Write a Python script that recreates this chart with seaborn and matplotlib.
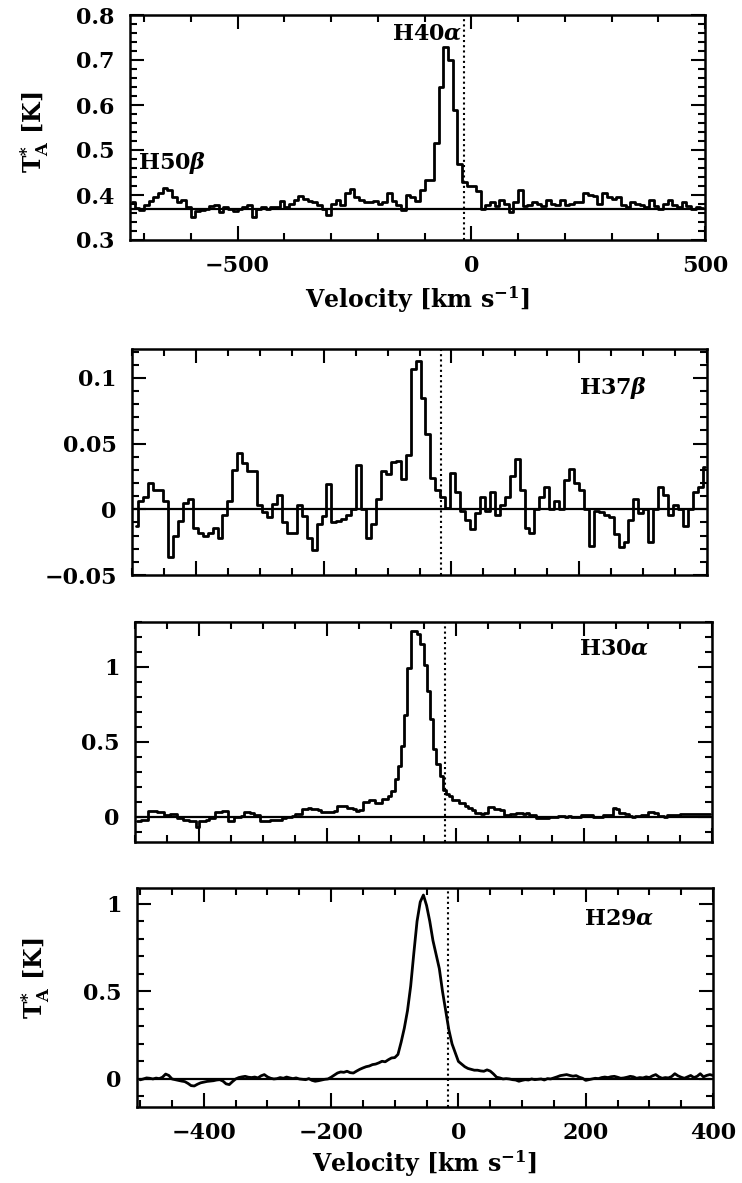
import numpy as np
import matplotlib
matplotlib.use("Agg")
import matplotlib.pyplot as plt
import seaborn as sns
from matplotlib.ticker import MultipleLocator, FixedLocator, FixedFormatter

# ---------------- data ----------------
v_sys = -16.0          # systemic velocity (dotted line), km/s

# H40alpha (+H50beta), top panel: channel centres v0 + dv*i
h40_v0, h40_dv = -725.0, 10.0
h40_baseline = 0.37
h40_T = [0.385, 0.372, 0.367, 0.377, 0.387, 0.396, 0.405, 0.416, 0.412, 0.396,
         0.385, 0.390, 0.373, 0.352, 0.365, 0.367, 0.370, 0.375, 0.378, 0.362,
         0.373, 0.370, 0.365, 0.370, 0.374, 0.378, 0.352, 0.370, 0.373, 0.370,
         0.374, 0.373, 0.387, 0.373, 0.381, 0.390, 0.398, 0.392, 0.387, 0.384,
         0.378, 0.370, 0.355, 0.380, 0.389, 0.377, 0.404, 0.413, 0.395, 0.390,
         0.385, 0.384, 0.387, 0.381, 0.384, 0.405, 0.387, 0.378, 0.367, 0.400,
         0.396, 0.387, 0.411, 0.433, 0.433, 0.515, 0.640, 0.730, 0.700, 0.589,
         0.470, 0.430, 0.420, 0.420, 0.410, 0.368, 0.378, 0.385, 0.375, 0.390,
         0.381, 0.363, 0.385, 0.411, 0.375, 0.378, 0.384, 0.381, 0.376, 0.389,
         0.381, 0.378, 0.389, 0.378, 0.381, 0.384, 0.385, 0.405, 0.400, 0.398,
         0.381, 0.405, 0.396, 0.392, 0.396, 0.378, 0.374, 0.385, 0.381, 0.378,
         0.374, 0.389, 0.376, 0.370, 0.381, 0.389, 0.378, 0.374, 0.385, 0.376,
         0.370, 0.374, 0.372]

# H37beta
h37_v0, h37_dv = -494.0, 7.75
h37_T = [-0.013, 0.006, 0.009, 0.020, 0.015, 0.015, 0.006, -0.036, -0.020, -0.009,
         0.005, 0.008, -0.014, -0.018, -0.020, -0.018, -0.014, -0.022, -0.004, 0.006,
         0.030, 0.043, 0.035, 0.029, 0.029, 0.003, -0.002, -0.006, 0.004, 0.011,
         -0.010, -0.018, -0.018, 0.003, -0.005, -0.022, -0.031, -0.011, -0.005, 0.019,
         -0.010, -0.009, -0.007, -0.004, 0.000, 0.034, 0.000, -0.022, -0.011, 0.008,
         0.029, 0.027, 0.036, 0.037, 0.023, 0.041, 0.107, 0.113, 0.085, 0.057,
         0.024, 0.015, 0.009, 0.001, 0.028, 0.013, -0.001, -0.008, -0.015, -0.003,
         0.009, -0.001, 0.013, -0.004, 0.003, 0.009, 0.025, 0.038, 0.015, -0.014,
         -0.018, 0.000, 0.009, 0.017, 0.000, 0.006, 0.000, 0.022, 0.031, 0.020,
         0.015, 0.000, -0.028, -0.001, -0.002, -0.004, -0.006, -0.019, -0.029, -0.025,
         -0.008, 0.008, -0.003, 0.000, -0.025, 0.000, 0.017, 0.011, -0.004, 0.003,
         0.000, -0.013, 0.000, 0.013, 0.017, 0.032]

# H30alpha
h30_v0, h30_dv = -497.5, 5.0
h30_T = [-0.03, -0.03, -0.02, -0.02, 0.04, 0.04, 0.035, 0.03, 0.03, 0.008,
         0.008, 0.015, 0.015, -0.01, -0.01, -0.02, -0.02, -0.03, -0.03, -0.07,
         -0.03, -0.03, -0.025, -0.01, -0.01, 0.03, 0.03, 0.04, 0.04, -0.03,
         -0.03, 0.0, 0.0, 0.005, 0.03, 0.03, 0.025, 0.01, 0.01, -0.03,
         -0.03, -0.03, -0.025, -0.02, -0.02, -0.02, -0.01, 0.0, 0.0, 0.005,
         0.02, 0.02, 0.05, 0.05, 0.055, 0.05, 0.05, 0.045, 0.03, 0.03,
         0.03, 0.03, 0.035, 0.07, 0.07, 0.07, 0.06, 0.06, 0.05, 0.04,
         0.045, 0.10, 0.10, 0.11, 0.11, 0.09, 0.09, 0.12, 0.12, 0.136,
         0.17, 0.25, 0.34, 0.47, 0.68, 0.99, 1.24, 1.24, 1.22, 1.15,
         1.01, 0.84, 0.65, 0.45, 0.35, 0.27, 0.18, 0.15, 0.136, 0.113,
         0.113, 0.09, 0.09, 0.07, 0.06, 0.047, 0.024, 0.024, 0.02, 0.024,
         0.062, 0.062, 0.053, 0.053, 0.045, 0.013, 0.013, 0.018, 0.018, 0.024,
         0.024, 0.02, 0.024, 0.013, 0.013, -0.009, -0.009, -0.012, -0.009, -0.004,
         -0.004, -0.006, 0.002, 0.002, 0.0, 0.002, -0.004, -0.004, -0.006, 0.008,
         0.013, 0.013, 0.01, -0.004, -0.004, 0.0, 0.013, 0.013, 0.01, 0.058,
         0.05, 0.024, 0.024, 0.02, 0.002, 0.0, 0.002, 0.004, 0.013, 0.013,
         0.029, 0.029, 0.025, 0.002, 0.002, 0.0, 0.013, 0.013, 0.01, 0.013,
         0.018, 0.018, 0.015, 0.018, 0.02, 0.018, 0.016, 0.018, 0.018, 0.02]

# H29alpha
h29_v0, h29_dv = -500.0, 5.0
h29_T = [-0.005, 0.0, 0.006, 0.004, 0.0, 0.005, 0.002, 0.01, 0.028, 0.02,
         0.0, -0.004, -0.008, -0.012, -0.015, -0.025, -0.038, -0.04, -0.03, -0.022,
         -0.018, -0.014, -0.012, -0.01, -0.006, -0.004, -0.012, -0.028, -0.032, -0.015,
         0.0, 0.008, 0.012, 0.015, 0.01, 0.008, 0.011, 0.006, 0.018, 0.025,
         0.012, 0.004, 0.0, 0.002, 0.008, 0.004, 0.011, 0.006, 0.002, 0.006,
         0.0, -0.002, -0.004, 0.002, -0.008, -0.013, -0.01, -0.006, -0.002, 0.0,
         0.01, 0.022, 0.034, 0.04, 0.038, 0.044, 0.036, 0.034, 0.045, 0.055,
         0.063, 0.07, 0.074, 0.082, 0.085, 0.092, 0.101, 0.098, 0.11, 0.12,
         0.122, 0.14, 0.21, 0.29, 0.39, 0.53, 0.72, 0.90, 1.01, 1.05,
         0.99, 0.90, 0.79, 0.71, 0.63, 0.50, 0.39, 0.28, 0.20, 0.15,
         0.10, 0.085, 0.07, 0.06, 0.055, 0.05, 0.05, 0.046, 0.044, 0.052,
         0.045, 0.029, 0.01, 0.006, 0.0, 0.002, 0.0, -0.004, -0.006, -0.013,
         -0.008, -0.004, -0.006, 0.0, -0.004, -0.002, 0.0, -0.006, 0.002, 0.0,
         0.006, 0.012, 0.019, 0.022, 0.025, 0.02, 0.016, 0.019, 0.01, 0.004,
         -0.008, -0.004, 0.0, 0.004, 0.002, 0.008, 0.011, 0.008, 0.013, 0.015,
         0.01, 0.004, 0.006, 0.01, 0.015, 0.012, 0.004, 0.008, 0.006, 0.012,
         0.008, 0.018, 0.025, 0.012, 0.004, 0.008, 0.006, 0.014, 0.03, 0.018,
         0.01, 0.004, 0.012, 0.02, 0.008, 0.015, 0.03, 0.012, 0.02, 0.025,
         0.02]

line_names = [r"H40$\alpha$", r"H37$\beta$", r"H30$\alpha$", r"H29$\alpha$"]
extra_name = r"H50$\beta$"

xlabel_text = r"Velocity [km s$^{-1}$]"
ylabel_text = r"$\mathrm{T_A^{*}}$ [K]"

top_xticks = [-500, 0, 500]
top_xticklabels = ["\u2212500", "0", "500"]
bot_xticks = [-400, -200, 0, 200, 400]
bot_xticklabels = ["\u2212400", "\u2212200", "0", "200", "400"]
yticks_1 = [0.3, 0.4, 0.5, 0.6, 0.7, 0.8]
yticklabels_1 = ["0.3", "0.4", "0.5", "0.6", "0.7", "0.8"]
yticks_2 = [-0.05, 0.0, 0.05, 0.1]
yticklabels_2 = ["\u22120.05", "0", "0.05", "0.1"]
yticks_34 = [0.0, 0.5, 1.0]
yticklabels_34 = ["0", "0.5", "1"]

# ---------------- style ----------------
sns.set_style("ticks")
plt.rcParams["font.family"] = ["DejaVu Serif"]
plt.rcParams["font.weight"] = "bold"
plt.rcParams["mathtext.fontset"] = "custom"
plt.rcParams["mathtext.rm"] = "DejaVu Serif:bold"
plt.rcParams["mathtext.it"] = "DejaVu Serif:italic:bold"
plt.rcParams["mathtext.bf"] = "DejaVu Serif:bold"
plt.rcParams["axes.linewidth"] = 1.6
for key in ("text.color", "axes.labelcolor", "xtick.color", "ytick.color",
            "axes.edgecolor", "xtick.labelcolor", "ytick.labelcolor"):
    plt.rcParams[key] = "black"

FS_TICK = 16
FS_LAB = 17
FS_NAME = 16

W, H = 742, 1183
fig = plt.figure(figsize=(W / 100, H / 100), dpi=100)


def add_ax(x0, y0, x1, y1):
    return fig.add_axes([x0 / W, 1 - y1 / H, (x1 - x0) / W, (y1 - y0) / H])


ax1 = add_ax(130, 15, 705, 240)
ax2 = add_ax(132, 349, 707, 575)
ax3 = add_ax(135, 622, 712, 842)
ax4 = add_ax(137, 888, 713, 1107)

panels = [
    (ax1, h40_v0, h40_dv, h40_T, h40_baseline, (-730, 500), (0.3, 0.8)),
    (ax2, h37_v0, h37_dv, h37_T, 0.0, (-500, 400), (-0.05, 0.122)),
    (ax3, h30_v0, h30_dv, h30_T, 0.0, (-500, 400), (-0.17, 1.3)),
    (ax4, h29_v0, h29_dv, h29_T, 0.0, (-505, 400), (-0.16, 1.09)),
]

for i, (ax, v0, dv, T, base, xl, yl) in enumerate(panels):
    v = v0 + dv * np.arange(len(T))
    sns.lineplot(x=v, y=np.asarray(T), ax=ax, color="black", lw=2.0,
                 drawstyle="steps-mid" if i < 3 else "default",
                 estimator=None, sort=False)
    ax.axhline(base, color="black", lw=1.6, zorder=1)
    ax.axvline(v_sys, color="black", lw=1.5, ls=(0, (1, 1.5)), zorder=1)
    ax.set_xlim(*xl)
    ax.set_ylim(*yl)
    ax.set_xlabel("")
    ax.set_ylabel("")
    ax.tick_params(which="both", direction="in", top=True, right=True,
                   width=1.5, labelsize=FS_TICK, color="black",
                   labelcolor="black")
    ax.tick_params(which="major", length=10)
    ax.tick_params(which="minor", length=5)
    ax.tick_params(axis="y", pad=11)
    ax.tick_params(axis="x", pad=11)
    for s in ax.spines.values():
        s.set_visible(True)
        s.set_linewidth(1.8)
        s.set_color("black")

# ticks
ax1.xaxis.set_major_locator(FixedLocator(top_xticks))
ax1.xaxis.set_major_formatter(FixedFormatter(top_xticklabels))
ax1.xaxis.set_minor_locator(MultipleLocator(100))
ax1.yaxis.set_major_locator(FixedLocator(yticks_1))
ax1.yaxis.set_major_formatter(FixedFormatter(yticklabels_1))
ax1.yaxis.set_minor_locator(MultipleLocator(0.02))

ax2.yaxis.set_major_locator(FixedLocator(yticks_2))
ax2.yaxis.set_major_formatter(FixedFormatter(yticklabels_2))
ax2.yaxis.set_minor_locator(MultipleLocator(0.01))

for ax in (ax3, ax4):
    ax.yaxis.set_major_locator(FixedLocator(yticks_34))
    ax.yaxis.set_major_formatter(FixedFormatter(yticklabels_34))
    ax.yaxis.set_minor_locator(MultipleLocator(0.1))

for ax in (ax2, ax3, ax4):
    ax.xaxis.set_major_locator(FixedLocator(bot_xticks))
    ax.xaxis.set_minor_locator(MultipleLocator(50))
for ax in (ax2, ax3):
    ax.tick_params(axis="x", labelbottom=False)
ax4.xaxis.set_major_formatter(FixedFormatter(bot_xticklabels))

# axis labels
ax1.set_xlabel(xlabel_text, fontsize=FS_LAB, fontweight="bold", color="black")
ax1.xaxis.set_label_coords(0.5, -0.195)
ax4.set_xlabel(xlabel_text, fontsize=FS_LAB, fontweight="bold", color="black")
ax4.xaxis.set_label_coords(0.5, -0.19)
ax1.set_ylabel(ylabel_text, fontsize=FS_LAB, fontweight="bold", color="black")
ax1.yaxis.set_label_coords(-0.138, 0.48)
ax4.set_ylabel(ylabel_text, fontsize=FS_LAB, fontweight="bold", color="black")
ax4.yaxis.set_label_coords(-0.148, 0.59)

# line annotations
ax1.text(-94, 0.76, line_names[0], fontsize=FS_NAME, ha="center", va="center")
ax1.text(-712, 0.47, extra_name, fontsize=FS_NAME, ha="left", va="center")
ax2.text(200, 0.092, line_names[1], fontsize=FS_NAME, ha="left", va="center")
ax3.text(193, 1.12, line_names[2], fontsize=FS_NAME, ha="left", va="center")
ax4.text(198, 0.914, line_names[3], fontsize=FS_NAME, ha="left", va="center")

fig.savefig("out.png", dpi=100)
